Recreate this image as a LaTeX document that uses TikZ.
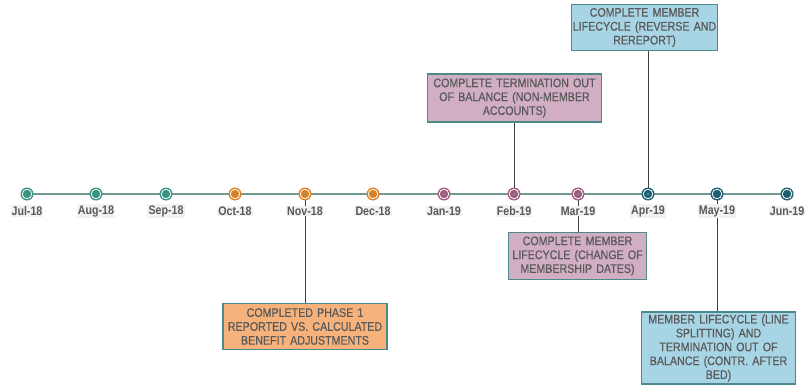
\documentclass[tikz,border=0pt]{standalone}
\usepackage{fontspec}
\setmainfont{Liberation Sans}[FakeStretch=0.86]
\newfontfamily\notefont{Liberation Sans}[FakeStretch=0.86, FakeBold=0.5]
\usetikzlibrary{calc}

\definecolor{tealdot}{HTML}{3A9483}
\definecolor{orangedot}{HTML}{DE7F22}
\definecolor{mauvedot}{HTML}{A25B7F}
\definecolor{navydot}{HTML}{1E5E70}
\definecolor{axisline}{HTML}{729A93}
\definecolor{txtgray}{HTML}{595959}
\definecolor{boxblue}{HTML}{A8D5E5}
\definecolor{boxpink}{HTML}{D2AEC5}
\definecolor{boxorange}{HTML}{F6B27A}
\definecolor{boxedge}{HTML}{4C8A8A}

\tikzset{
  month/.style={fill=black!5, text=txtgray, inner sep=0.8pt,
    font=\fontsize{9.3}{11}\selectfont\bfseries},
  note/.style={draw=boxedge, line width=0.9pt, text=txtgray, align=center,
    inner sep=0pt, font=\notefont\fontsize{9.3}{10.4}\selectfont},
  link/.style={draw=black!75, line width=0.6pt}
}

\begin{document}
\begin{tikzpicture}[x=0.75pt,y=-0.75pt]
  \useasboundingbox (0,0) rectangle (812,385);

  % --- Month points on the line ---
  \foreach \i/\x in {1/27,2/96,3/166,4/235,5/305,6/373,7/444,8/514,9/578,10/648,11/717,12/787}
    \coordinate (d\i) at (\x,194);

  % --- Time line ---
  \draw[axisline, line width=1.6pt] (d1) -- (d12);

  % --- Milestone boxes ---
  \node[note, fill=boxblue, minimum width=110pt, minimum height=35pt, text width=108pt]
    (apr) at (644.5,27.5) {COMPLETE MEMBER\\LIFECYCLE (REVERSE AND\\REREPORT)};
  \node[note, fill=boxpink, minimum width=131pt, minimum height=36pt, text width=129pt]
    (feb) at (514.5,98) {COMPLETE TERMINATION OUT\\OF BALANCE (NON-MEMBER\\ACCOUNTS)};
  \node[note, fill=boxpink, minimum width=104pt, minimum height=35pt, text width=102pt]
    (mar) at (577.5,256) {COMPLETE MEMBER\\LIFECYCLE (CHANGE OF\\MEMBERSHIP DATES)};
  \node[note, fill=boxorange, minimum width=123pt, minimum height=35pt, text width=121pt]
    (nov) at (305,326.5) {COMPLETED PHASE 1\\REPORTED VS. CALCULATED\\BENEFIT ADJUSTMENTS};
  \node[note, fill=boxblue, minimum width=115pt, minimum height=54pt, text width=113pt]
    (may) at (718.5,348) {MEMBER LIFECYCLE (LINE\\SPLITTING) AND\\TERMINATION OUT OF\\BALANCE (CONTR. AFTER\\BED)};

  % --- Connectors ---
  \draw[link] (d10) -- (d10 |- apr.south);
  \draw[link] (d8) -- (d8 |- feb.south);
  \draw[link] (d9) -- (d9 |- mar.north);
  \draw[link] (d5) -- (d5 |- nov.north);
  \draw[link] (d11) -- (d11 |- may.north);

  % --- Dots ---
  \foreach \i/\c in {1/tealdot,2/tealdot,3/tealdot,4/orangedot,5/orangedot,6/orangedot,
                     7/mauvedot,8/mauvedot,9/mauvedot,10/navydot,11/navydot,12/navydot} {
    \fill[\c] (d\i) circle (6.5);
    \fill[white] (d\i) circle (5.2);
    \fill[\c] (d\i) circle (4.2);
  }
  \foreach \i in {4,...,10}
    \fill[axisline] (d\i) circle (1.1);

  % --- Month labels ---
  \foreach \i/\t in {1/Jul-18,2/Aug-18,3/Sep-18,4/Oct-18,5/Nov-18,6/Dec-18,
                     7/Jan-19,8/Feb-19,9/Mar-19,10/Apr-19,11/May-19,12/Jun-19}
    \node[month] (m\i) at ($(d\i)+(0,17)$) {\t};

\end{tikzpicture}
\end{document}
